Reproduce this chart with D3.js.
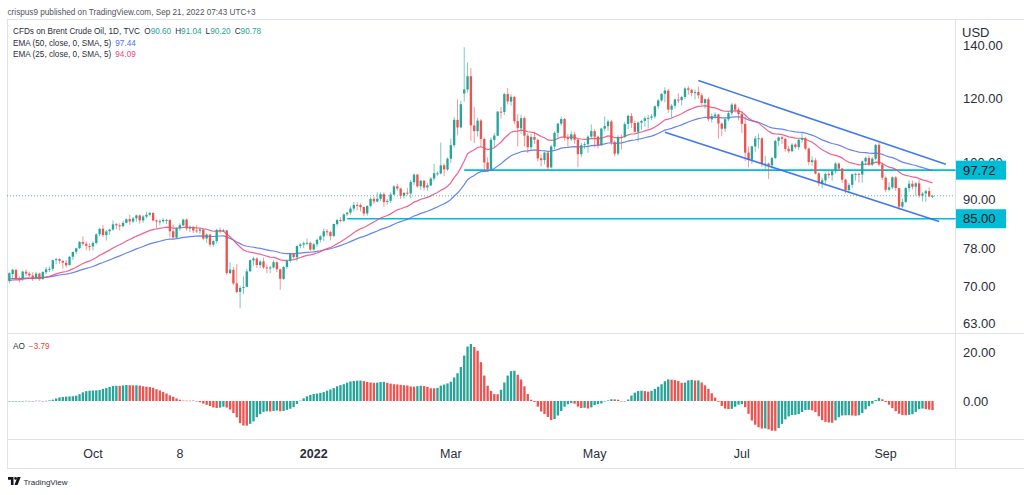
<!DOCTYPE html>
<html><head><meta charset="utf-8">
<script src="https://cdn.jsdelivr.net/npm/d3@7"></script>
<style>
html,body{margin:0;padding:0;background:#fff;}
svg{display:block;font-family:"Liberation Sans",Arial,sans-serif;}
</style>
</head><body>
<svg id="chart" width="1024" height="495"></svg>
<script>
// ---------- DATA (daily candles, CFDs on Brent Crude Oil, TVC) ----------
const startDate = "2021-08-27";
const skipDates = ["2022-04-15", "2022-07-04"];

const opens = [
  71.1, 72.5, 73.4,
  71.6, 71.6, 73.0, 72.6, 72.2, 71.7, 72.6, 71.5, 72.9, 73.5, 73.6, 75.5, 75.7, 75.3, 74.9, 74.4, 76.2, 77.3, 78.1, 79.5, 79.1, 78.6,
  78.5, 79.3, 81.3, 82.6, 81.1, 82.0, 82.4, 83.7, 83.4, 83.2, 84.0, 84.9, 84.3, 85.1, 85.8, 84.6, 85.5, 86.0, 86.4, 84.6, 84.3,
  84.4, 84.7, 84.7, 82.0, 80.5, 82.7, 83.4, 84.8, 82.6, 82.9, 82.2, 82.1, 82.4, 80.3, 81.2, 78.9, 79.7, 82.3, 82.2, 82.2, 72.7, 73.4,
  70.6, 68.9, 69.7, 69.9, 73.1, 75.4, 75.8, 74.4, 75.2, 73.9, 73.7, 73.9, 75.0, 73.5, 71.5, 74.0, 75.3, 76.9, 76.1, 78.6, 78.9, 79.2, 79.3,
  77.8, 79.0, 80.0, 80.8, 82.0, 81.8, 80.9, 83.7, 84.7, 84.5, 86.1, 86.5, 87.5, 88.4, 88.4, 87.9, 86.3, 88.2, 90.0, 89.3, 90.0,
  91.2, 89.2, 89.5, 91.1, 93.3, 92.7, 90.8, 91.6, 91.4, 94.4, 96.5, 93.3, 94.8, 93.0, 93.5, 95.4, 96.8, 96.8, 99.1, 97.9,
  101.0, 105.0, 112.9, 110.5, 121.8, 123.2, 128.0, 111.1, 109.3, 112.7, 106.9, 99.9, 98.0, 106.6, 107.9, 115.6, 115.5, 121.6, 119.0, 120.6, 112.5, 110.2, 113.5,
  107.9, 104.4, 107.5, 106.6, 101.1, 100.6, 102.8, 98.5, 104.6, 108.8, 111.7, 113.2, 107.3, 106.8, 108.3, 106.7, 102.3, 105.0, 105.3, 107.6,
  109.3, 107.6, 105.0, 110.1, 110.9, 112.4, 105.9, 102.5, 107.5, 107.5, 111.6, 114.2, 111.9, 109.1, 112.0, 112.6, 113.4, 113.6, 114.0, 117.4, 119.4, 121.7,
  122.8, 116.3, 117.6, 119.7, 119.5, 120.6, 123.6, 123.1, 122.0, 122.3, 121.2, 118.5, 119.8, 113.1, 114.1, 114.7, 111.7, 110.1, 113.1, 115.1, 118.0, 116.3,
  114.8, 111.6, 102.8, 100.7, 104.6, 107.0, 107.1, 99.5, 99.6, 99.1, 101.2, 106.3, 107.4, 106.9, 103.9, 103.2, 105.2, 104.4, 106.6, 107.1,
  104.0, 100.0, 100.5, 96.8, 94.1, 94.9, 96.7, 96.3, 97.4, 99.6, 98.2, 95.1, 92.3, 93.7, 96.6, 96.7, 96.5, 100.2, 101.2, 99.3, 101.0, 105.1, 99.3,
  95.6, 92.4, 93.0, 95.7, 92.8, 88.0, 89.2, 92.8, 94.0, 93.2, 94.1, 90.8, 91.4, 92.0, 90.60
];
const highs = [
  72.9, 73.6, 73.5,
  72.0, 73.2, 73.5, 73.0, 72.9, 73.0, 72.8, 73.1, 74.0, 74.0, 75.6, 76.0, 75.9, 75.4, 75.5, 76.4, 77.4, 78.2, 79.7, 80.8, 79.6, 79.2,
  79.6, 81.5, 82.8, 83.5, 82.3, 82.6, 84.6, 84.0, 83.9, 84.5, 85.1, 86.0, 85.4, 86.0, 86.1, 85.9, 86.7, 86.7, 86.6, 84.8, 84.8,
  85.2, 85.0, 84.9, 83.6, 82.9, 83.9, 85.0, 85.1, 83.4, 83.3, 83.4, 82.8, 82.6, 81.5, 81.4, 80.0, 82.6, 82.9, 82.6, 82.3, 75.0, 74.0,
  74.6, 70.1, 72.0, 73.6, 75.6, 76.2, 76.1, 75.5, 76.0, 74.5, 74.2, 75.5, 75.2, 73.6, 74.2, 75.5, 76.9, 77.0, 78.7, 79.3, 79.6, 80.3, 79.6,
  79.3, 80.3, 81.1, 82.7, 82.5, 82.1, 83.8, 85.0, 85.4, 86.3, 86.7, 88.1, 89.2, 89.1, 88.8, 88.1, 88.3, 90.4, 90.5, 91.7, 91.7,
  91.7, 90.0, 91.7, 93.7, 94.0, 92.9, 91.8, 92.9, 95.0, 96.8, 96.6, 95.0, 95.0, 94.2, 95.8, 99.5, 97.4, 105.8, 99.6, 101.4,
  107.0, 113.9, 119.8, 119.3, 139.1, 133.2, 131.0, 117.2, 113.6, 113.2, 107.3, 101.4, 107.4, 108.7, 115.8, 117.2, 122.0, 123.7, 121.5, 121.0, 114.8, 114.6, 114.0,
  108.6, 108.4, 109.1, 107.0, 102.2, 103.1, 103.0, 105.1, 109.2, 111.9, 114.0, 113.5, 108.4, 109.2, 109.1, 106.8, 105.7, 106.0, 108.0, 111.4,
  110.0, 107.9, 110.4, 114.0, 113.0, 112.9, 106.5, 108.0, 108.3, 112.2, 114.6, 115.1, 112.6, 112.4, 112.9, 114.0, 114.6, 114.8, 117.7, 119.8, 121.9, 124.0,
  123.5, 118.2, 120.0, 121.9, 121.0, 124.0, 124.4, 123.5, 123.2, 124.2, 121.9, 120.1, 120.5, 115.0, 115.4, 114.9, 112.0, 113.5, 115.6, 118.6, 118.4, 117.0,
  115.8, 114.0, 104.6, 104.8, 107.8, 108.5, 107.4, 101.8, 99.9, 101.5, 106.7, 107.7, 107.7, 107.3, 104.8, 105.6, 105.6, 107.0, 108.6, 107.5,
  104.2, 101.7, 101.2, 97.2, 95.6, 97.0, 97.4, 97.7, 100.0, 99.9, 98.3, 95.4, 94.2, 96.8, 97.0, 97.0, 100.5, 101.6, 101.9, 101.4, 105.4, 105.7, 99.9,
  96.0, 94.4, 96.0, 96.1, 92.8, 90.0, 93.1, 94.9, 94.8, 94.4, 95.0, 91.8, 92.4, 93.0, 91.04
];
const lows = [
  70.6, 71.6, 71.3,
  70.8, 71.1, 72.1, 71.9, 71.1, 71.4, 71.1, 71.3, 72.5, 72.9, 73.1, 74.6, 74.7, 73.7, 73.9, 74.3, 75.5, 76.8, 77.9, 78.7, 77.7, 77.5,
  77.6, 78.9, 80.8, 80.6, 79.8, 81.2, 82.1, 82.4, 82.2, 82.9, 83.9, 83.5, 84.0, 84.3, 83.8, 84.0, 85.1, 85.6, 84.4, 82.6, 83.4,
  83.9, 83.7, 80.6, 80.3, 80.3, 82.1, 83.2, 82.1, 81.8, 81.6, 81.6, 81.4, 79.9, 79.3, 78.4, 78.4, 79.2, 81.5, 81.8, 72.3, 72.5, 70.3,
  68.6, 65.7, 68.5, 69.8, 72.9, 74.3, 73.8, 73.8, 73.6, 72.7, 72.7, 73.7, 72.9, 69.3, 71.3, 73.6, 74.9, 75.8, 75.2, 78.1, 78.1, 78.7, 77.5,
  77.6, 78.4, 79.4, 79.7, 81.0, 79.9, 80.6, 83.3, 84.1, 84.2, 85.7, 85.9, 86.9, 87.1, 86.8, 85.6, 85.7, 87.8, 88.7, 89.1, 89.5,
  88.0, 88.5, 88.9, 90.9, 92.1, 90.0, 90.1, 90.9, 90.2, 93.6, 92.9, 92.4, 92.2, 92.1, 93.4, 94.8, 96.2, 96.5, 96.0, 97.5,
  99.8, 104.3, 108.0, 110.2, 119.0, 122.1, 106.3, 105.6, 107.6, 104.5, 97.4, 97.3, 97.6, 104.3, 107.8, 113.3, 114.5, 118.0, 117.6, 111.5, 104.6, 108.5, 104.7,
  102.6, 103.3, 105.4, 100.2, 98.8, 99.4, 97.6, 98.3, 103.8, 106.9, 111.0, 106.4, 104.5, 106.2, 105.4, 98.5, 101.4, 103.8, 102.7, 107.1,
  104.3, 104.0, 104.8, 109.3, 109.4, 105.1, 101.7, 101.9, 103.7, 107.2, 110.0, 110.3, 108.9, 106.1, 109.7, 110.7, 110.2, 112.8, 113.3, 116.5, 119.0, 118.8,
  115.2, 113.6, 116.7, 118.4, 117.7, 119.9, 121.4, 120.8, 119.7, 120.0, 117.8, 116.6, 112.4, 112.0, 113.3, 107.0, 107.7, 109.1, 112.5, 114.4, 115.3, 112.7,
  108.7, 100.3, 98.5, 99.5, 103.0, 104.0, 98.6, 97.9, 95.3, 98.2, 100.9, 104.7, 105.4, 103.0, 102.7, 102.9, 103.9, 103.6, 105.8, 103.5,
  99.1, 99.0, 96.5, 93.3, 92.8, 93.8, 95.5, 94.8, 96.8, 97.8, 94.2, 91.5, 91.6, 92.9, 94.8, 94.3, 94.3, 99.1, 98.9, 98.9, 100.6, 98.8, 95.0,
  91.7, 92.0, 92.6, 92.1, 87.2, 87.6, 88.9, 91.9, 92.5, 90.8, 90.3, 89.3, 89.2, 90.4, 90.20
];
const closes = [
  72.70, 73.41, 71.63,
  71.59, 73.03, 72.61, 72.22, 71.69, 72.60, 71.45, 72.92, 73.51, 73.60, 75.46, 75.67, 75.34, 74.92, 74.36, 76.19, 77.25, 78.09, 79.53, 79.09, 78.64, 78.52,
  79.28, 81.26, 82.56, 81.08, 81.95, 82.39, 83.65, 83.42, 83.18, 84.00, 84.86, 84.33, 85.08, 85.82, 84.61, 85.53, 85.99, 86.40, 84.58, 84.32, 84.38,
  84.71, 84.72, 81.99, 80.54, 82.74, 83.43, 84.78, 82.64, 82.87, 82.17, 82.05, 82.43, 80.28, 81.24, 78.89, 79.70, 82.31, 82.25, 82.22, 72.72, 73.44, 70.57,
  68.87, 69.67, 69.88, 73.08, 75.44, 75.82, 74.42, 75.15, 73.90, 73.70, 73.88, 75.02, 73.52, 71.52, 73.98, 75.29, 76.85, 76.14, 78.60, 78.94, 79.23, 79.32, 77.78,
  78.98, 80.00, 80.80, 81.99, 81.75, 80.87, 83.72, 84.67, 84.47, 86.06, 86.48, 87.51, 88.44, 88.38, 87.89, 86.27, 88.20, 89.96, 89.34, 90.03, 91.21,
  89.16, 89.47, 91.11, 93.27, 92.69, 90.78, 91.55, 91.41, 94.44, 96.48, 93.28, 94.81, 92.97, 93.54, 95.39, 96.84, 96.84, 99.08, 97.93, 100.99,
  104.97, 112.93, 110.46, 118.11, 123.21, 127.98, 111.14, 109.33, 112.67, 106.90, 99.91, 98.02, 106.64, 107.93, 115.62, 115.48, 121.60, 119.03, 120.65, 112.48, 110.23, 113.45, 107.91,
  104.39, 107.53, 106.64, 101.07, 100.58, 102.78, 98.48, 104.64, 108.78, 111.70, 113.16, 107.25, 106.80, 108.33, 106.65, 102.32, 104.99, 105.32, 107.59, 109.34,
  107.58, 104.97, 110.14, 110.90, 112.39, 105.94, 102.46, 107.51, 107.45, 111.55, 114.24, 111.93, 109.11, 112.04, 112.55, 113.42, 113.56, 114.03, 117.40, 119.43, 121.67, 122.84,
  116.29, 117.61, 119.72, 119.51, 120.57, 123.58, 123.07, 122.01, 122.27, 121.17, 118.51, 119.81, 113.12, 114.13, 114.65, 111.74, 110.05, 113.12, 115.09, 117.98, 116.26, 114.81,
  111.63, 102.77, 100.69, 104.65, 107.02, 107.10, 99.49, 99.57, 99.10, 101.16, 106.27, 107.35, 106.92, 103.86, 103.20, 105.15, 104.40, 106.62, 107.14, 103.97,
  100.03, 100.54, 96.78, 94.12, 94.92, 96.65, 96.31, 97.40, 99.60, 98.15, 95.10, 92.34, 93.65, 96.59, 96.72, 96.48, 100.22, 101.22, 99.34, 100.99, 105.09, 99.31, 95.64,
  92.36, 93.02, 95.74, 92.83, 88.00, 89.15, 92.84, 94.00, 93.17, 94.10, 90.84, 91.35, 92.00, 90.62, 90.78
];

// indicator settings and seeds (values of the lines at the first visible bar)
const emaLengths = [50, 25];
const emaSeeds = [71.5, 71.1];
const aoFast = 5, aoSlow = 34;

// axis ticks
const priceTicks = [140, 120, 100, 90, 78, 70, 63];
const aoTicks = [20, 0];
const timeTickDates = ["2021-10-01", "2021-11-08", "2022-01-03", "2022-03-01", "2022-05-02", "2022-07-01", "2022-09-01"];
const timeTickLabels = ["Oct", "8", "2022", "Mar", "May", "Jul", "Sep"];

// drawings
const levelPrices = [97.72, 85.00];
const levelStartDates = ["2022-03-07", "2022-01-17"];
const channelStartDates = ["2022-06-14", "2022-05-31"];
const channelStartPrices = [126.4, 109.0];
const channelEndDates = ["2022-09-27", "2022-09-23"];
const channelEndPrices = [99.4, 84.3];

// legend texts
const titleText = "crispus9 published on TradingView.com, Sep 21, 2022 07:43 UTC+3";
const symbolText = "CFDs on Brent Crude Oil, 1D, TVC";
const ohlcLegend = [["O", "90.60"], ["H", "91.04"], ["L", "90.20"], ["C", "90.78"]];
const emaLegend = [["EMA (50, close, 0, SMA, 5)", "97.44"], ["EMA (25, close, 0, SMA, 5)", "94.09"]];
const aoLegend = ["AO", "\u22123.79"];

// ---------- LAYOUT ----------
const W = 1024, H = 495;
const paneL = 7, paneR = 955, mainT = 19, mainB = 333, aoB = 439, timeB = 468;
const UP = "#26a69a", DOWN = "#ef5350", LINE = "#e0e3eb", TXT = "#2a2e39";
const EMA_COLORS = ["#4e6ff2", "#f0467d"];
const CYAN = "#00bcd4", CHAN = "#2f6cf0";

const svg = d3.select("#chart");
const n = closes.length;

// trading calendar
function tradingDays(start, count, skip) {
  const out = [];
  const d = new Date(start + "T00:00:00Z");
  while (out.length < count) {
    const dow = d.getUTCDay();
    const s = d.toISOString().slice(0, 10);
    if (dow !== 0 && dow !== 6 && !skip.includes(s)) out.push(s);
    d.setUTCDate(d.getUTCDate() + 1);
  }
  return out;
}
const dates = tradingDays(startDate, n + 10, skipDates);
const di = s => dates.indexOf(s);

const x = d3.scaleLinear().domain([0, n - 1]).range([9.3, 932.5]);
const y = d3.scaleLog().domain([63, 140]).range([323, 45]);
const ya = d3.scaleLinear().domain([0, 20]).range([401, 352]);
const step = x(1) - x(0);
const bw = step * 0.7;

// clip paths
const defs = svg.append("defs");
defs.append("clipPath").attr("id", "clipMain").append("rect")
  .attr("x", paneL).attr("y", mainT).attr("width", paneR - paneL).attr("height", mainB - mainT);
defs.append("clipPath").attr("id", "clipAO").append("rect")
  .attr("x", paneL).attr("y", mainB).attr("width", paneR - paneL).attr("height", aoB - mainB);

// frame
const frame = svg.append("g").attr("stroke", LINE).attr("stroke-width", 1).attr("fill", "none");
frame.append("line").attr("x1", paneL - 0.5).attr("x2", W).attr("y1", mainT + 0.5).attr("y2", mainT + 0.5);
frame.append("line").attr("x1", paneL + 0.5).attr("x2", paneL + 0.5).attr("y1", mainT).attr("y2", timeB);
frame.append("line").attr("x1", paneL).attr("x2", W).attr("y1", mainB + 0.5).attr("y2", mainB + 0.5);
frame.append("line").attr("x1", paneL).attr("x2", W).attr("y1", aoB + 0.5).attr("y2", aoB + 0.5);
frame.append("line").attr("x1", paneL).attr("x2", W).attr("y1", timeB + 0.5).attr("y2", timeB + 0.5);
frame.append("line").attr("x1", paneR + 0.5).attr("x2", paneR + 0.5).attr("y1", mainT).attr("y2", timeB);

// ---------- MAIN PANE ----------
const gMain = svg.append("g").attr("clip-path", "url(#clipMain)");

// last price dotted line
gMain.append("line")
  .attr("x1", paneL).attr("x2", paneR)
  .attr("y1", y(closes[n - 1])).attr("y2", y(closes[n - 1]))
  .attr("stroke", UP).attr("stroke-width", 1).attr("stroke-dasharray", "1,2").attr("opacity", 0.8);

// horizontal levels
levelPrices.forEach((p, k) => {
  gMain.append("line")
    .attr("x1", x(di(levelStartDates[k]))).attr("x2", paneR)
    .attr("y1", y(p)).attr("y2", y(p))
    .attr("stroke", CYAN).attr("stroke-width", 1.6);
});

// EMA lines
emaLengths.forEach((len, k) => {
  const a = 2 / (len + 1);
  let e = emaSeeds[k];
  const vals = closes.map((c, i) => (i === 0 ? e : (e = e + a * (c - e))));
  gMain.append("path")
    .datum(vals)
    .attr("fill", "none")
    .attr("stroke", EMA_COLORS[k])
    .attr("stroke-width", 1.2)
    .attr("opacity", 0.85)
    .attr("d", d3.line().x((d, i) => x(i)).y(d => y(d)));
});

// candles
const candles = gMain.append("g").selectAll("g").data(d3.range(n)).join("g");
candles.append("line")
  .attr("x1", i => x(i)).attr("x2", i => x(i))
  .attr("y1", i => y(Math.max(highs[i], opens[i], closes[i])))
  .attr("y2", i => y(Math.min(lows[i], opens[i], closes[i])))
  .attr("stroke", i => closes[i] >= opens[i] ? UP : DOWN)
  .attr("stroke-width", 1)
  .attr("opacity", 0.6);
candles.append("rect")
  .attr("x", i => x(i) - bw / 2)
  .attr("width", bw)
  .attr("y", i => y(Math.max(opens[i], closes[i])))
  .attr("height", i => Math.max(1, y(Math.min(opens[i], closes[i])) - y(Math.max(opens[i], closes[i]))))
  .attr("fill", i => closes[i] >= opens[i] ? UP : DOWN);

// channel trend lines
channelStartDates.forEach((sd, k) => {
  gMain.append("line")
    .attr("x1", x(di(sd))).attr("y1", y(channelStartPrices[k]))
    .attr("x2", x(di(channelEndDates[k]))).attr("y2", y(channelEndPrices[k]))
    .attr("stroke", CHAN).attr("stroke-width", 1.6).attr("opacity", 0.9);
});

// ---------- AO PANE ----------
const med = highs.map((h, i) => (h + lows[i]) / 2);
function sma(arr, len, i) {
  const s = Math.max(0, i - len + 1);
  let sum = 0;
  for (let k = s; k <= i; k++) sum += arr[k];
  return sum / (i - s + 1);
}
const ao = med.map((_, i) => sma(med, aoFast, i) - sma(med, aoSlow, i));
const gAO = svg.append("g").attr("clip-path", "url(#clipAO)");
gAO.selectAll("rect").data(ao).join("rect")
  .attr("x", (d, i) => x(i) - bw / 2)
  .attr("width", bw)
  .attr("y", d => Math.min(ya(d), ya(0)))
  .attr("height", d => Math.max(0.5, Math.abs(ya(d) - ya(0))))
  .attr("fill", (d, i) => (i === 0 || d >= ao[i - 1]) ? UP : DOWN);

// ---------- AXES ----------
const axisFont = 13;
const pAxis = svg.append("g").attr("font-size", axisFont).attr("fill", TXT);
priceTicks.forEach(t => {
  pAxis.append("text").attr("x", 963).attr("y", y(t)).attr("dy", "0.36em").text(t.toFixed(2));
});
// USD header
svg.append("rect").attr("x", paneR + 1).attr("y", mainT + 1).attr("width", W - paneR - 1).attr("height", 19).attr("fill", "#fff");
svg.append("text").attr("x", 962).attr("y", 32).attr("dy", "0.36em").attr("font-size", axisFont).attr("fill", TXT).text("USD");

// level labels
levelPrices.forEach(p => {
  svg.append("line").attr("x1", paneR).attr("x2", 956).attr("y1", y(p)).attr("y2", y(p)).attr("stroke", CYAN);
  svg.append("rect").attr("x", 956).attr("y", y(p) - 9.5).attr("width", 50).attr("height", 19).attr("fill", CYAN);
  svg.append("text").attr("x", 963).attr("y", y(p)).attr("dy", "0.36em").attr("font-size", axisFont).attr("fill", "#131722").text(p.toFixed(2));
});

aoTicks.forEach(t => {
  svg.append("text").attr("x", 963).attr("y", ya(t)).attr("dy", "0.36em").attr("font-size", axisFont).attr("fill", TXT).text(t.toFixed(2));
});

// time axis
timeTickDates.forEach((d, k) => {
  svg.append("text")
    .attr("x", x(di(d))).attr("y", 453).attr("dy", "0.36em")
    .attr("text-anchor", "middle").attr("font-size", 12.5)
    .attr("font-weight", timeTickLabels[k] === "2022" ? "bold" : "normal")
    .attr("fill", TXT).text(timeTickLabels[k]);
});

// ---------- LEGENDS ----------
const small = 8.2;
svg.append("text").attr("x", 7.5).attr("y", 14.5).attr("font-size", small).attr("fill", "#50535e").text(titleText);

const l1 = svg.append("text").attr("x", 13).attr("y", 33.5).attr("font-size", small).attr("fill", TXT);
l1.append("tspan").text(symbolText);
ohlcLegend.forEach(([k, v], j) => {
  l1.append("tspan").attr("dx", j === 0 ? 4.5 : 4).attr("fill", TXT).text(k);
  l1.append("tspan").attr("fill", UP).text(v);
});
emaLegend.forEach(([lab, v], j) => {
  const t = svg.append("text").attr("x", 13).attr("y", 45.5 + j * 11).attr("font-size", small).attr("fill", TXT);
  t.append("tspan").text(lab);
  t.append("tspan").attr("dx", 4).attr("fill", EMA_COLORS[j]).text(v);
});
const aoT = svg.append("text").attr("x", 13).attr("y", 348.5).attr("font-size", small).attr("fill", TXT);
aoT.append("tspan").text(aoLegend[0]);
aoT.append("tspan").attr("dx", 4).attr("fill", "#f44336").text(aoLegend[1]);

// TradingView footer
const logo = svg.append("g").attr("fill", "#131722");
logo.append("path").attr("d", "M8,477 h5.5 v8 h-2.6 v-5.2 h-2.9 z");
logo.append("circle").attr("cx", 15.6).attr("cy", 478.4).attr("r", 1.4);
logo.append("path").attr("d", "M17.5,477 h3.2 l-3.2,8 h-3 z");
svg.append("text").attr("x", 23.5).attr("y", 484.5).attr("font-size", 8).attr("fill", "#2a2e39").text("TradingView");

// sanity check of data lengths
if (![opens, highs, lows].every(a => a.length === n)) {
  svg.append("text").attr("x", 300).attr("y", 250).attr("fill", "red").text("len mismatch " + [opens.length, highs.length, lows.length, n].join(","));
}
</script>
</body></html>
